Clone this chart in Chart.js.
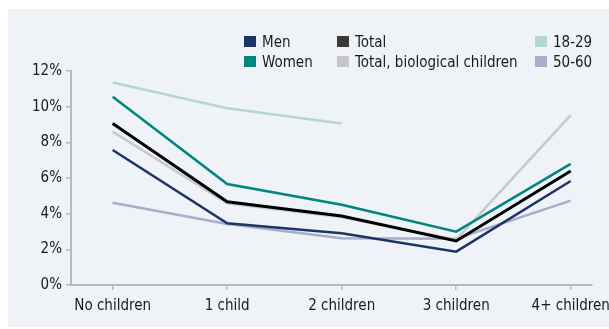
<!DOCTYPE html>
<html>
<head>
<meta charset="utf-8">
<script src="https://cdn.jsdelivr.net/npm/chart.js@4/dist/chart.umd.min.js"></script>
<style>
	html, body { margin: 0; padding: 0; background: #ffffff; }
	#wrap { position: relative; width: 609px; height: 329px; overflow: hidden; }
	#panel { position: absolute; left: 8px; top: 9px; width: 601px; height: 318px; background: #eff2f7; }
	#chart { position: absolute; left: 0; top: 0; }
	.legend-item { position: absolute; font: 15px "Liberation Sans Narrow", "DejaVu Sans Condensed", sans-serif; color: #1a1a1a; white-space: nowrap; line-height: 12px; }
	.legend-item span.box { display: inline-block; width: 12px; height: 11px; margin-right: 6px; vertical-align: top; }
</style>
</head>
<body>
<div id="wrap">
	<div id="panel"></div>
	<canvas id="chart" width="609" height="329"></canvas>
	<div id="legend"></div>
</div>
<script>
const categories = ['No children', '1 child', '2 children', '3 children', '4+ children'];
const yTicks = [0, 2, 4, 6, 8, 10, 12];

const men = [7.57, 3.46, 2.9, 1.87, 5.83];
const women = [10.56, 5.66, 4.5, 2.99, 6.79];
const total = [9.06, 4.67, 3.87, 2.47, 6.39];
const totalBio = [8.6, 4.58, 3.8, 2.55, 9.53];
const age18to29 = [11.36, 9.91, 9.06, null, null];
const age50to60 = [4.61, 3.42, 2.62, 2.6, 4.73];

const fontFamily = '"Liberation Sans Narrow", "DejaVu Sans Condensed", sans-serif';

// legend: label, colour of line, colour of legend box, column, row, draw order
const series = [
	{ label: 'Men', data: men, color: '#1f3466', box: '#1f3466', col: 0, row: 0, order: 2 },
	{ label: 'Women', data: women, color: '#00857f', box: '#00857f', col: 0, row: 1, order: 1 },
	{ label: 'Total', data: total, color: '#000000', box: '#3a3a38', col: 1, row: 0, order: 0 },
	{ label: 'Total, biological children', data: totalBio, color: '#c9c9c9', box: '#c6c6c6', col: 1, row: 1, order: 3 },
	{ label: '18-29', data: age18to29, color: '#b7d5d0', box: '#b7d5d0', col: 2, row: 0, order: 5 },
	{ label: '50-60', data: age50to60, color: '#a9adca', box: '#a9adca', col: 2, row: 1, order: 4 }
];

const legendCols = [244, 337, 535];
const legendRows = [36, 56];

const legend = document.getElementById('legend');
for (const s of series) {
	const el = document.createElement('div');
	el.className = 'legend-item';
	el.style.left = legendCols[s.col] + 'px';
	el.style.top = legendRows[s.row] + 'px';
	el.innerHTML = '<span class="box" style="background:' + s.box + '"></span>' + s.label;
	legend.appendChild(el);
}

const ctx = document.getElementById('chart');

new Chart(ctx, {
	type: 'line',
	data: {
		datasets: series.map(s => ({
			label: s.label,
			data: s.data.map((v, i) => ({ x: i, y: v })),
			borderColor: s.color,
			backgroundColor: s.color,
			borderWidth: s.label == 'Total' ? 3 : 2.5,
			pointRadius: 0,
			tension: 0,
			order: s.order
		}))
	},
	options: {
		responsive: false,
		animation: false,
		layout: {
			padding: { top: 71, right: 17, left: 0, bottom: 0 }
		},
		plugins: {
			legend: { display: false },
			tooltip: { enabled: false }
		},
		scales: {
			x: {
				type: 'linear',
				min: -0.364,
				max: 4.186,
				afterBuildTicks: scale => {
					scale.ticks = categories.map((c, i) => ({ value: i }));
				},
				afterFit: scale => {
					// let the last label hang past the axis, like the original
					scale.height = 44;
					scale.paddingLeft = 0;
					scale.paddingRight = 0;
				},
				ticks: {
					callback: v => categories[v],
					color: '#1a1a1a',
					font: { family: fontFamily, size: 15 },
					padding: 7,
					maxRotation: 0
				},
				grid: {
					drawOnChartArea: false,
					drawTicks: true,
					tickLength: 5,
					color: '#b9b9b9',
					lineWidth: 1.5
				},
				border: { color: '#b9b9b9', width: 2 }
			},
			y: {
				min: 0,
				max: 12,
				afterBuildTicks: scale => {
					scale.ticks = yTicks.map(v => ({ value: v }));
				},
				afterFit: scale => {
					scale.width = 71;
					scale.paddingTop = 0;
					scale.paddingBottom = 0;
				},
				ticks: {
					callback: v => v + '%',
					color: '#1a1a1a',
					font: { family: fontFamily, size: 15 },
					padding: 4
				},
				grid: {
					drawOnChartArea: false,
					drawTicks: true,
					tickLength: 5,
					color: '#b9b9b9',
					lineWidth: 1.5
				},
				border: { color: '#b9b9b9', width: 2 }
			}
		}
	}
});
</script>
</body>
</html>
